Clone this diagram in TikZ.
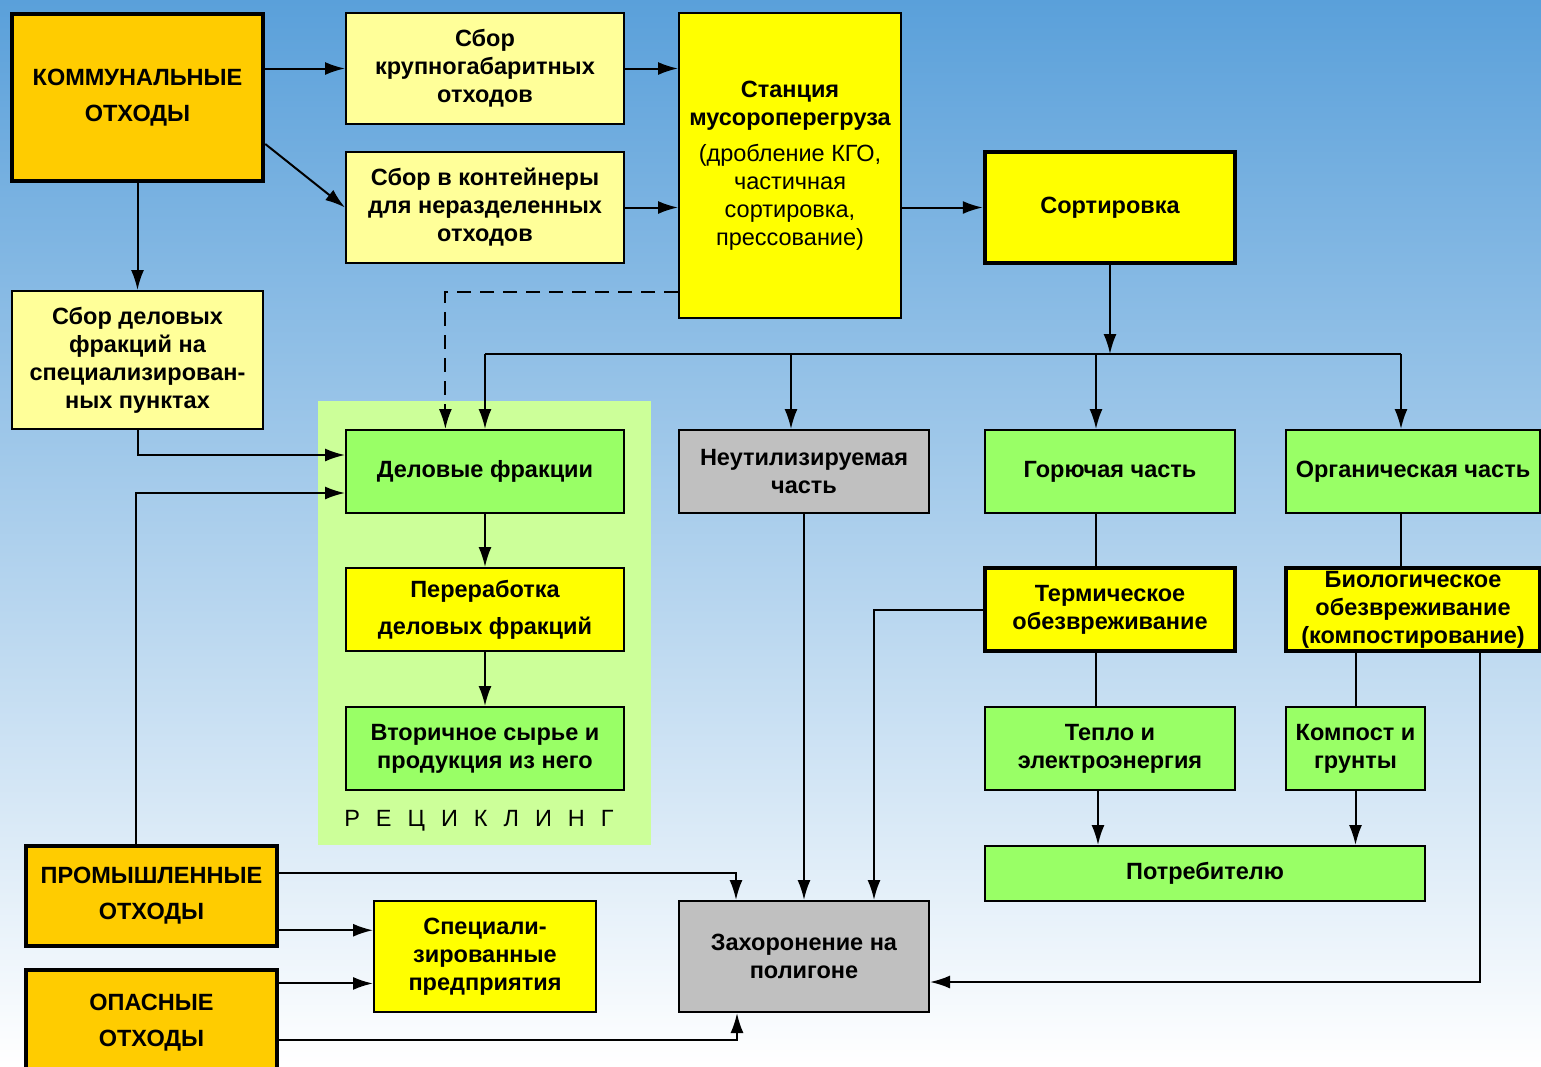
\documentclass[tikz,border=0pt]{standalone}
\usepackage{fontspec}
\setmainfont{Liberation Sans}
\usetikzlibrary{arrows.meta,calc}

\definecolor{orangebox}{HTML}{FFCC00}
\definecolor{paleyellow}{HTML}{FFFF99}
\definecolor{yellowbox}{HTML}{FFFF00}
\definecolor{greenbox}{HTML}{99FF66}
\definecolor{graybox}{HTML}{C0C0C0}
\definecolor{recyclebg}{HTML}{CCFF99}
\definecolor{skytop}{RGB}{90,160,218}
\definecolor{skymid}{RGB}{172,206,238}

\newcommand{\rgap}{\hspace{16pt}}

\tikzset{
  box/.style={draw, line width=2pt, inner sep=2pt, align=center,
    font=\bfseries\fontsize{23.5}{28}\selectfont},
  heavybox/.style={box, line width=4.5pt},
  wh/.style 2 args={minimum width=#1pt, minimum height=#2pt},
  arr/.style={line width=2pt, -{Latex[length=20pt,width=13pt]}},
  link/.style={line width=2pt},
}

\begin{document}
\begin{tikzpicture}[x=1pt,y=-1pt]
    % Background
    \clip (0,0) rectangle (1541,1066);
    \shade[top color=skytop, middle color=skymid, bottom color=white] (0,0) rectangle (1541,1066);
    \fill[recyclebg] (318,401) rectangle (651,845);
    \node[font=\fontsize{23.5}{28}\selectfont] (reclabel) at (479,821)
        {Р\rgap Е\rgap Ц\rgap И\rgap К\rgap Л\rgap И\rgap Н\rgap Г};

    % Sources
    \node[heavybox, fill=orangebox, wh={251}{167}] (komm) at (137.5,97.5) {КОММУНАЛЬНЫЕ\\[8pt]ОТХОДЫ};
    \node[heavybox, fill=orangebox, wh={251}{100}] (prom) at (151.5,896) {ПРОМЫШЛЕННЫЕ\\[8pt]ОТХОДЫ};
    \node[heavybox, fill=orangebox, wh={251}{105}] (opas) at (151.5,1022.5) {ОПАСНЫЕ\\[8pt]ОТХОДЫ};

    % Collection
    \node[box, fill=paleyellow, wh={278}{111}] (krupn) at (485,68.5) {Сбор\\крупногабаритных\\отходов};
    \node[box, fill=paleyellow, wh={278}{111}] (kont) at (485,207.5) {Сбор в контейнеры\\для неразделенных\\отходов};
    \node[box, fill=paleyellow, wh={251}{138}] (delsbor) at (137.5,360) {Сбор деловых\\фракций на\\специализирован-\\ных пунктах};
    \node[box, fill=yellowbox, wh={222}{305}] (station) at (790,165.5)
        {Станция\\мусороперегруза\\[8pt]\mdseries(дробление КГО,\\\mdseries частичная\\\mdseries сортировка,\\\mdseries прессование)};
    \node[heavybox, fill=yellowbox, wh={250}{111}] (sort) at (1110,207.5) {Сортировка};

    % Recycling
    \node[box, fill=greenbox, wh={278}{83}] (delfr) at (485,471.5) {Деловые фракции};
    \node[box, fill=yellowbox, wh={278}{83}] (perer) at (485,609.5) {Переработка\\[9pt]деловых фракций};
    \node[box, fill=greenbox, wh={278}{83}] (vtor) at (485,748.5) {Вторичное сырье и\\продукция из него};

    % Sorted parts
    \node[box, fill=graybox, wh={250}{83}] (neutil) at (804,471.5) {Неутилизируемая\\часть};
    \node[box, fill=greenbox, wh={250}{83}] (gor) at (1110,471.5) {Горючая часть};
    \node[box, fill=greenbox, wh={254}{83}] (org) at (1413,471.5) {Органическая часть};
    \node[heavybox, fill=yellowbox, wh={250}{83}] (term) at (1110,609.5) {Термическое\\обезвреживание};
    \node[heavybox, fill=yellowbox, wh={254}{83}] (bio) at (1413,609.5) {Биологическое\\обезвреживание\\(компостирование)};
    \node[box, fill=greenbox, wh={250}{83}] (teplo) at (1110,748.5) {Тепло и\\электроэнергия};
    \node[box, fill=greenbox, wh={139}{83}] (kompost) at (1355.5,748.5) {Компост и\\грунты};
    \node[box, fill=greenbox, wh={440}{55}] (potreb) at (1205,873.5) {Потребителю};

    % Final
    \node[box, fill=yellowbox, wh={222}{111}] (spec) at (485,956.5) {Специали-\\зированные\\предприятия};
    \node[box, fill=graybox, wh={250}{111}] (zah) at (804,956.5) {Захоронение на\\полигоне};

    % Bus from sorting
    \coordinate (bus) at (1112,354);
    \coordinate (b1) at (791,354);
    \coordinate (b2) at (1096,354);
    \coordinate (b3) at (1401,354);
    \coordinate (drop) at (1480,982);

    % Connectors
    \draw[arr] (komm.east |- krupn.west) -- (krupn.west);
    \draw[arr] (komm.-20) -- (kont.west);
    \draw[arr] (komm.south) -- (delsbor.north);
    \draw[arr] (krupn.east) -- (krupn.east -| station.west);
    \draw[arr] (kont.east) -- (kont.east -| station.west);
    \draw[arr] (station.east |- sort.west) -- (sort.west);
    \draw[arr, dash pattern=on 14pt off 9pt] ($(station.south west)+(0,-27)$) -| (delfr.133);
    \draw[arr] (sort.south) -- (sort.south |- bus);
    \draw[link] (delfr.north |- bus) -- (b3);
    \draw[arr] (delfr.north |- bus) -- (delfr.north);
    \draw[arr] (b1) -- (b1 |- neutil.north);
    \draw[arr] (b2) -- (b2 |- gor.north);
    \draw[arr] (b3) -- (b3 |- org.north);
    \draw[arr] (delsbor.south) |- ($(delfr.west)+(0,-16.5)$);
    \draw[arr] ($(prom.north)+(-16,0)$) |- ($(delfr.west)+(0,21.5)$);
    \draw[arr] (delfr.south) -- (perer.north);
    \draw[arr] (perer.south) -- (vtor.north);
    \draw[arr] (neutil.south) -- (zah.north);
    \draw[link] (b2 |- gor.south) -- (b2 |- term.north);
    \draw[link] (b2 |- term.south) -- (b2 |- teplo.north);
    \draw[arr] (term.west) -| ($(zah.north)+(70,0)$);
    \draw[arr] ($(teplo.south)+(-12,0)$) -- ($(teplo.south |- potreb.north)+(-12,0)$);
    \draw[link] (b3 |- org.south) -- (b3 |- bio.north);
    \draw[link] (kompost.north |- bio.south) -- (kompost.north);
    \draw[arr] (kompost.south) -- (kompost.south |- potreb.north);
    \draw[arr] (drop |- bio.south) -- (drop) -- (drop -| zah.east);
    \draw[arr] (prom.10) -| ($(zah.north)+(-68,0)$);
    \draw[arr] (prom.-15) -- (prom.-15 -| spec.west);
    \draw[arr] (opas.17) -- (opas.17 -| spec.west);
    \draw[arr] (opas.-8) -| ($(zah.south)+(-67,0)$);
\end{tikzpicture}
\end{document}
